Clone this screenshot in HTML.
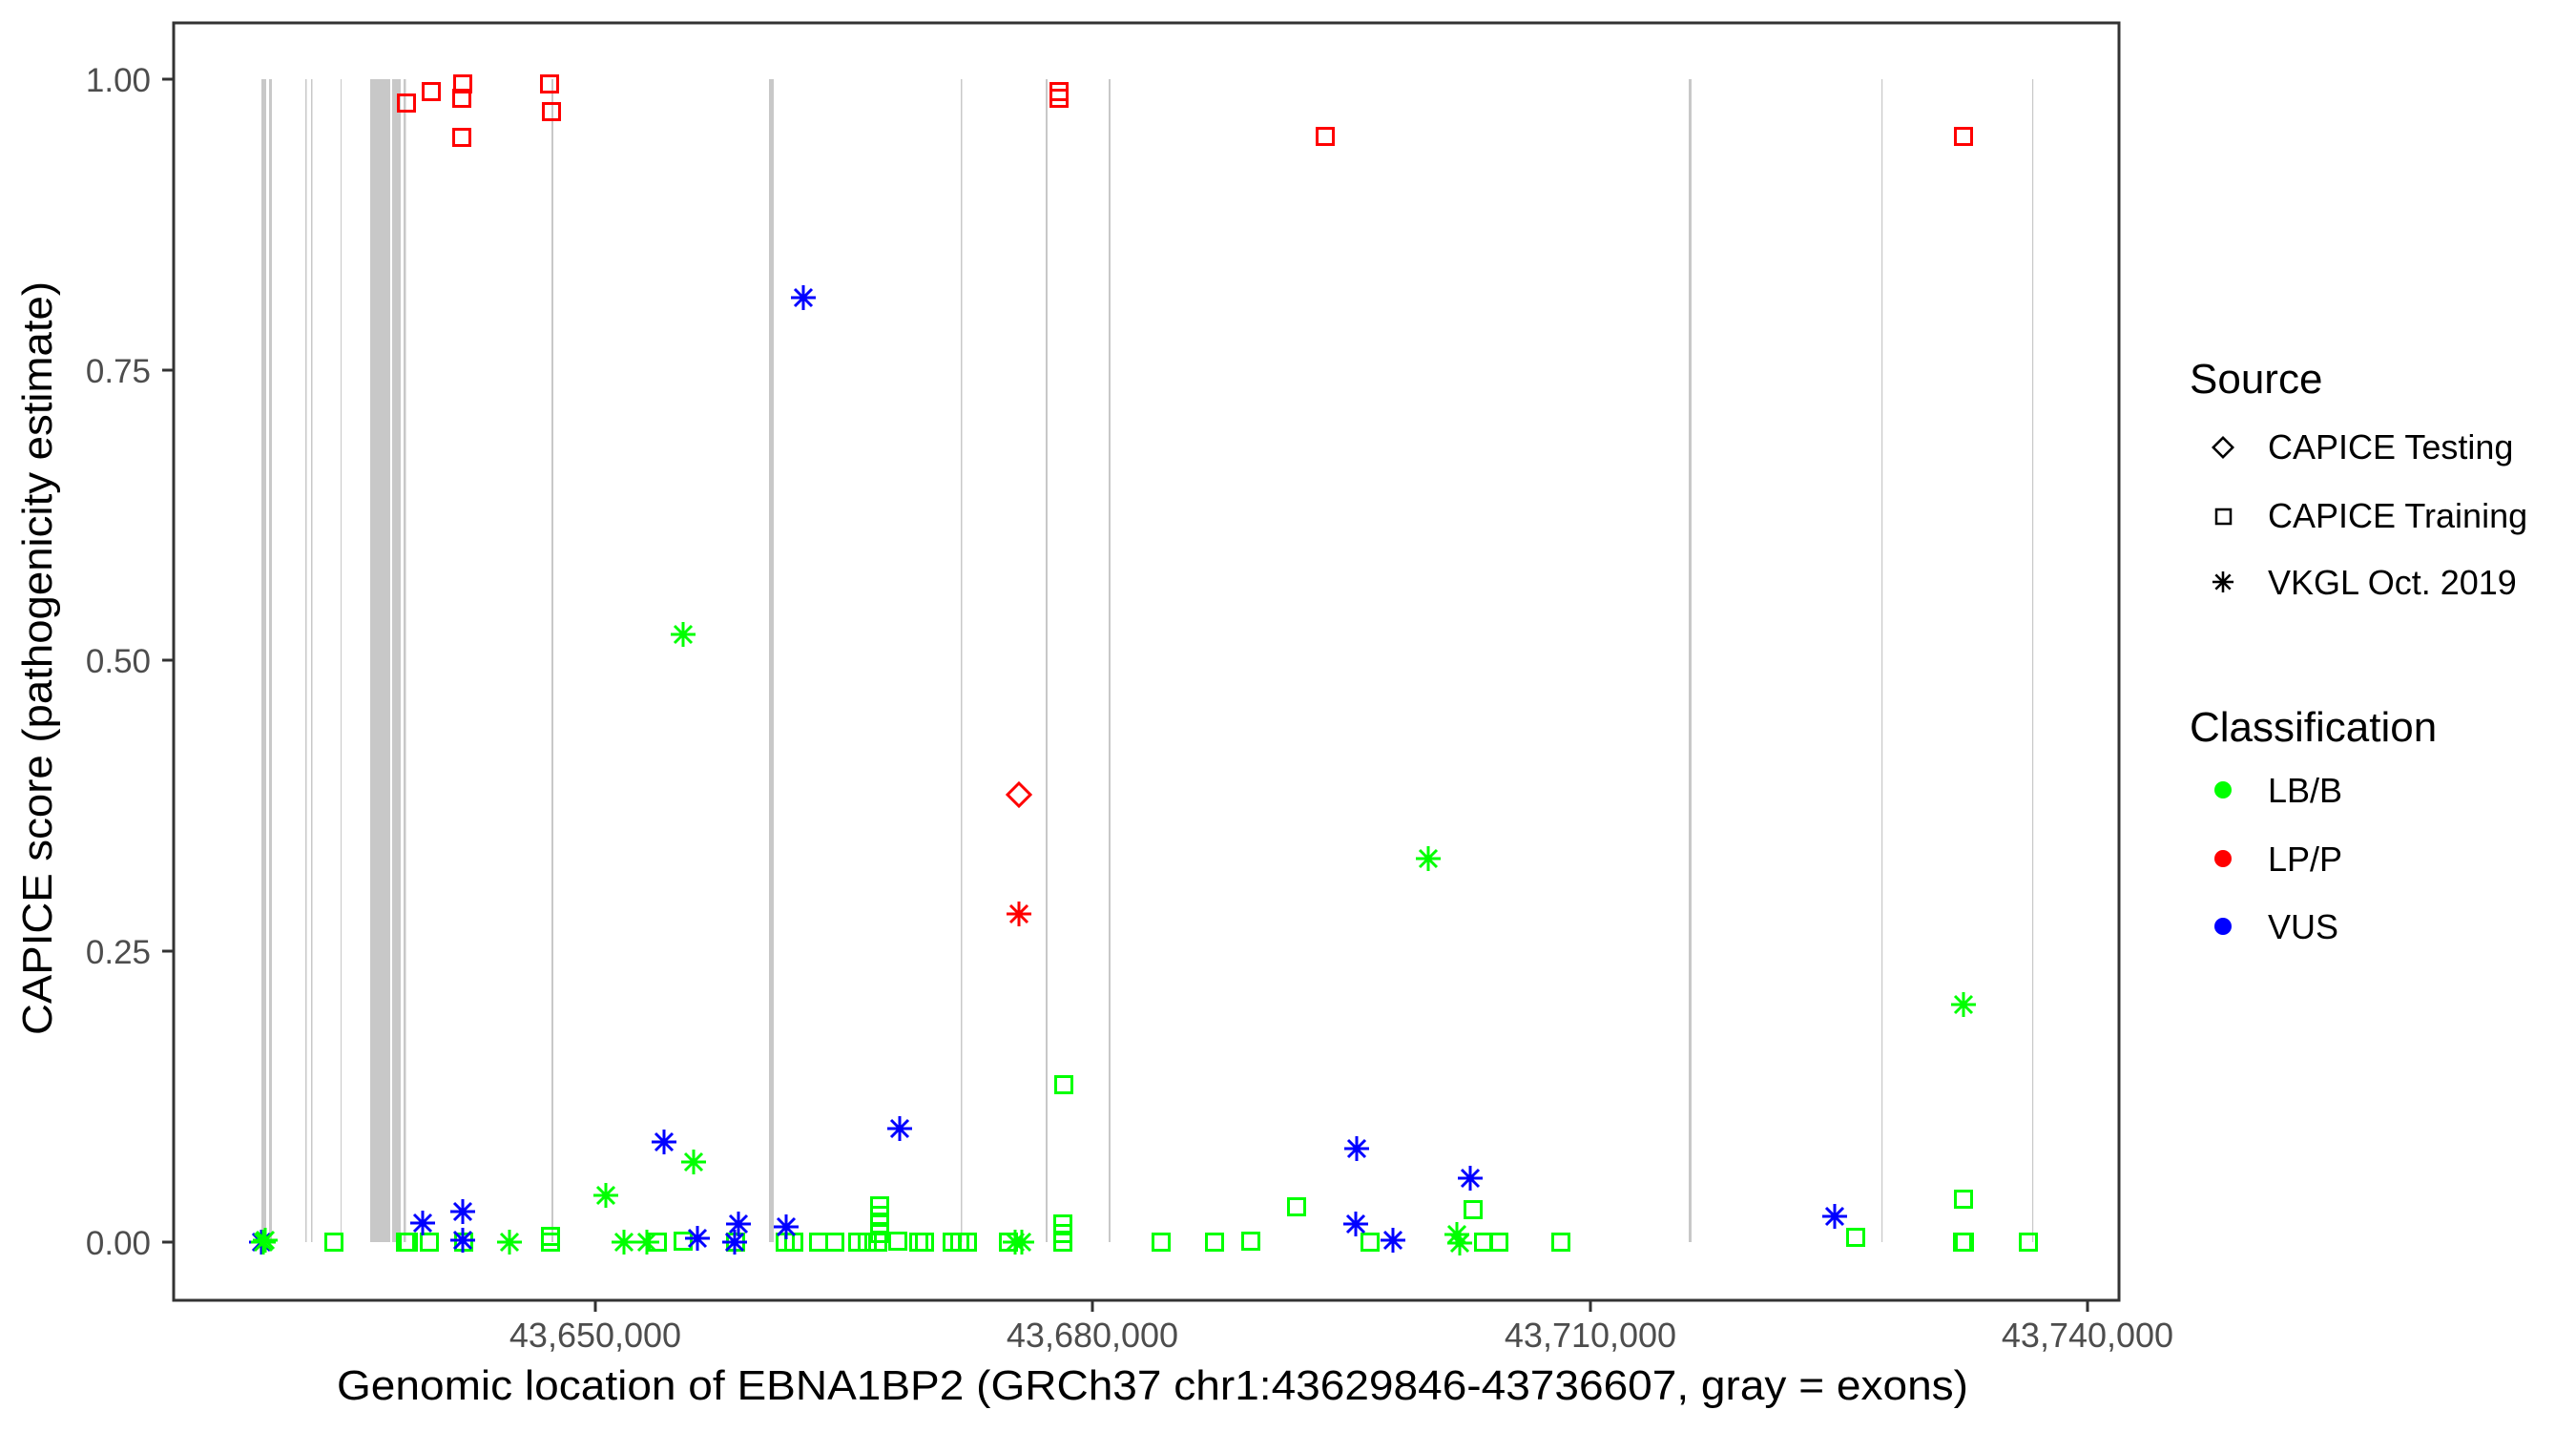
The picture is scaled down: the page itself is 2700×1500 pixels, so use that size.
<!DOCTYPE html>
<html><head><meta charset="utf-8"><style>html,body{margin:0;padding:0;background:#fff}svg{display:block}</style></head>
<body>
<svg width="2700" height="1500" viewBox="0 0 2700 1500" xmlns="http://www.w3.org/2000/svg" font-family="Liberation Sans, sans-serif">
<defs>
<g id="sq"><rect x="-8.5" y="-8.5" width="17" height="17" fill="none" stroke-width="3"/></g>
<g id="st"><path d="M-13,0H13M0,-13V13M-9,-9L9,9M-9,9L9,-9" fill="none" stroke-width="3"/></g>
<g id="di"><path d="M0,-12L12,0L0,12L-12,0Z" fill="none" stroke-width="3"/></g>
</defs>
<rect width="2700" height="1500" fill="#fff"/>
<g fill="#c8c8c8">
<rect x="274" y="83" width="5" height="1219"/>
<rect x="282" y="83" width="3" height="1219"/>
<rect x="320" y="83" width="1.5" height="1219"/>
<rect x="326" y="83" width="1.5" height="1219"/>
<rect x="357" y="83" width="1" height="1219"/>
<rect x="388" y="83" width="21" height="1219"/>
<rect x="411" y="83" width="9" height="1219"/>
<rect x="423" y="83" width="2.5" height="1219"/>
<rect x="578" y="83" width="2" height="1219"/>
<rect x="806" y="83" width="5" height="1219"/>
<rect x="1007" y="83" width="1.5" height="1219"/>
<rect x="1096" y="83" width="2" height="1219"/>
<rect x="1162" y="83" width="2" height="1219"/>
<rect x="1770" y="83" width="3" height="1219"/>
<rect x="1972" y="83" width="1.2" height="1219"/>
<rect x="2130" y="83" width="1.2" height="1219"/>
</g>
<g stroke="#00ff00">
<use href="#sq" x="350" y="1302"/><use href="#sq" x="425" y="1302"/><use href="#sq" x="428" y="1302"/><use href="#sq" x="450" y="1302"/><use href="#sq" x="486" y="1302"/>
<use href="#sq" x="577" y="1302"/><use href="#sq" x="577" y="1296"/><use href="#sq" x="689" y="1302"/><use href="#sq" x="716" y="1301"/>
<use href="#sq" x="771" y="1302"/><use href="#sq" x="823" y="1302"/><use href="#sq" x="832" y="1302"/><use href="#sq" x="858" y="1302"/><use href="#sq" x="875" y="1302"/>
<use href="#sq" x="899" y="1302"/><use href="#sq" x="909" y="1302"/><use href="#sq" x="920" y="1302"/><use href="#sq" x="922" y="1293"/><use href="#sq" x="922" y="1283"/><use href="#sq" x="922" y="1274"/><use href="#sq" x="922" y="1264"/>
<use href="#sq" x="941" y="1301"/><use href="#sq" x="963" y="1302"/><use href="#sq" x="969" y="1302"/><use href="#sq" x="998" y="1302"/>
<use href="#sq" x="1006" y="1302"/><use href="#sq" x="1014" y="1302"/><use href="#sq" x="1057" y="1302"/>
<use href="#sq" x="1114" y="1302"/><use href="#sq" x="1114" y="1293"/><use href="#sq" x="1114" y="1283"/><use href="#sq" x="1115" y="1137"/>
<use href="#sq" x="1217" y="1302"/><use href="#sq" x="1273" y="1302"/><use href="#sq" x="1311" y="1301"/><use href="#sq" x="1359" y="1265"/>
<use href="#sq" x="1436" y="1302"/><use href="#sq" x="1544" y="1268"/><use href="#sq" x="1555" y="1302"/><use href="#sq" x="1571" y="1302"/><use href="#sq" x="1636" y="1302"/>
<use href="#sq" x="1945" y="1297"/><use href="#sq" x="2058" y="1257"/><use href="#sq" x="2057" y="1302"/><use href="#sq" x="2059" y="1302"/><use href="#sq" x="2126" y="1302"/>
</g>
<g stroke="#ff0000">
<use href="#sq" x="426" y="108"/><use href="#sq" x="452" y="96"/><use href="#sq" x="485" y="88"/><use href="#sq" x="484" y="103"/><use href="#sq" x="484" y="144"/>
<use href="#sq" x="576" y="88"/><use href="#sq" x="578" y="117"/><use href="#sq" x="1110" y="96"/><use href="#sq" x="1110" y="103"/><use href="#sq" x="1389" y="143"/><use href="#sq" x="2058" y="143"/>
<use href="#di" x="1068" y="833"/><use href="#st" x="1068" y="958"/>
</g>
<g stroke="#0000ff">
<use href="#st" x="842" y="312"/><use href="#st" x="696" y="1197"/><use href="#st" x="943" y="1183"/><use href="#st" x="443" y="1282"/>
<use href="#st" x="485" y="1270"/><use href="#st" x="485" y="1300"/><use href="#st" x="731" y="1298"/><use href="#st" x="774" y="1283"/><use href="#st" x="770" y="1302"/><use href="#st" x="824" y="1286"/>
<use href="#st" x="274" y="1302"/>
<use href="#st" x="1422" y="1204"/><use href="#st" x="1541" y="1235"/><use href="#st" x="1421" y="1283"/><use href="#st" x="1460" y="1300"/><use href="#st" x="1923" y="1275"/>
</g>
<g stroke="#00ff00">
<use href="#st" x="276" y="1302"/><use href="#st" x="278" y="1300"/>
<use href="#st" x="716" y="665"/><use href="#st" x="635" y="1253"/><use href="#st" x="727" y="1218"/><use href="#st" x="534" y="1302"/><use href="#st" x="654" y="1302"/><use href="#st" x="678" y="1302"/>
<use href="#st" x="1064" y="1302"/><use href="#st" x="1071" y="1302"/><use href="#st" x="1497" y="900"/><use href="#st" x="1527" y="1294"/><use href="#st" x="1530" y="1303"/><use href="#st" x="2058" y="1053"/>
</g>
<rect x="182" y="24" width="2039" height="1339" fill="none" stroke="#333" stroke-width="3"/>
<g stroke="#333" stroke-width="3">
<line x1="170" y1="83" x2="182" y2="83"/><line x1="170" y1="388" x2="182" y2="388"/><line x1="170" y1="692" x2="182" y2="692"/><line x1="170" y1="997" x2="182" y2="997"/><line x1="170" y1="1302" x2="182" y2="1302"/>
<line x1="624" y1="1363" x2="624" y2="1375"/><line x1="1145" y1="1363" x2="1145" y2="1375"/><line x1="1667" y1="1363" x2="1667" y2="1375"/><line x1="2188" y1="1363" x2="2188" y2="1375"/>
</g>
<g fill="#4d4d4d" font-size="35" text-anchor="end">
<text x="158" y="96">1.00</text><text x="158" y="401">0.75</text><text x="158" y="705">0.50</text><text x="158" y="1010">0.25</text><text x="158" y="1315">0.00</text>
</g>
<g fill="#4d4d4d" font-size="36" text-anchor="middle">
<text x="624" y="1412">43,650,000</text><text x="1145" y="1412">43,680,000</text><text x="1667" y="1412">43,710,000</text><text x="2188" y="1412">43,740,000</text>
</g>
<text x="1208" y="1467" font-size="44" text-anchor="middle" fill="#000" textLength="1710" lengthAdjust="spacingAndGlyphs">Genomic location of EBNA1BP2 (GRCh37 chr1:43629846-43736607, gray = exons)</text>
<text transform="translate(54,690) rotate(-90)" font-size="44" text-anchor="middle" fill="#000" textLength="790" lengthAdjust="spacingAndGlyphs">CAPICE score (pathogenicity estimate)</text>
<text x="2295" y="412" font-size="44">Source</text>
<g stroke="#000"><use href="#di" x="2330" y="469" transform="translate(2330,469) scale(0.85) translate(-2330,-469)"/><rect x="2323" y="534" width="15" height="15" fill="none" stroke-width="2.5"/><use href="#st" x="2330" y="610" transform="translate(2330,610) scale(0.85) translate(-2330,-610)"/></g>
<g font-size="36" fill="#000">
<text x="2377" y="481">CAPICE Testing</text><text x="2377" y="553">CAPICE Training</text><text x="2377" y="623">VKGL Oct. 2019</text>
</g>
<text x="2295" y="777" font-size="44">Classification</text>
<circle cx="2330" cy="828" r="9" fill="#00ff00"/><circle cx="2330" cy="900" r="9" fill="#ff0000"/><circle cx="2330" cy="971" r="9" fill="#0000ff"/>
<g font-size="36" fill="#000">
<text x="2377" y="841">LB/B</text><text x="2377" y="913">LP/P</text><text x="2377" y="984">VUS</text>
</g>
</svg>
</body></html>
